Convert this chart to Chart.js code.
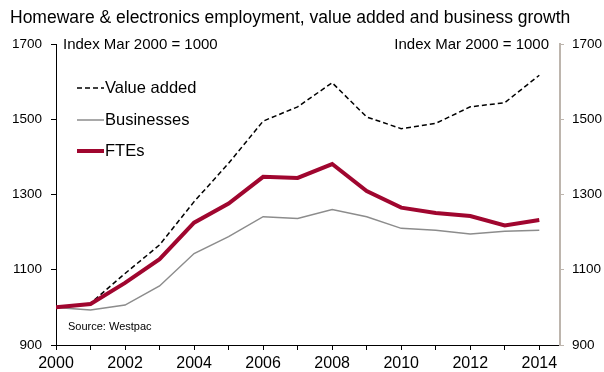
<!DOCTYPE html>
<html>
<head>
<meta charset="utf-8">
<script src="https://cdn.jsdelivr.net/npm/chart.js@4/dist/chart.umd.min.js"></script>
<style>
  html, body { margin: 0; padding: 0; background: #fff; }
  #wrap { width: 604px; height: 372px; }
</style>
</head>
<body>
<div id="wrap"><canvas id="chart-line"></canvas></div>
<script>
// index, Mar 2000 = 1000
var years = [2000, 2001, 2002, 2003, 2004, 2005, 2006, 2007, 2008, 2009, 2010, 2011, 2012, 2013, 2014];
var valueAdded = [1000, 1011, 1090, 1166, 1281, 1383, 1495, 1533, 1597, 1506, 1475, 1489, 1533, 1544, 1617];
var businesses = [1000, 993, 1006, 1057, 1143, 1188, 1241, 1236, 1260, 1241, 1210, 1205, 1195, 1202, 1205];
var ftes = [1000, 1009, 1065, 1128, 1225, 1276, 1347, 1344, 1381, 1309, 1265, 1251, 1243, 1218, 1232];
var yTicks = [900, 1100, 1300, 1500, 1700];

var FONT = "'Liberation Sans', Arial, sans-serif";

function pts(arr){
    return arr.map(function(v, i){ return {x: years[i], y: v}; });
}

// legend + notes drawn inside the plot
var notes = {
    id: 'notes',
    afterDraw: function(chart){
        var c = chart.ctx, a = chart.chartArea;
        c.save();
        c.fillStyle = '#000';
        c.textBaseline = 'middle';
        c.font = '15px ' + FONT;
        c.textAlign = 'left';
        c.fillText('Index Mar 2000 = 1000', a.left + 7, a.top + 1);
        c.textAlign = 'right';
        c.fillText('Index Mar 2000 = 1000', a.right - 11, a.top + 1);

        c.textAlign = 'left';
        c.font = '11px ' + FONT;
        c.fillText('Source: Westpac', a.left + 12, a.bottom - 18);

        var rows = [88, 120, 151];
        c.font = '16.5px ' + FONT;
        chart.data.datasets.forEach(function(ds, i){
            var y = rows[i];
            c.beginPath();
            c.strokeStyle = ds.borderColor;
            c.lineWidth = ds.borderWidth;
            c.setLineDash(ds.borderDash || []);
            c.moveTo(a.left + 21, y);
            c.lineTo(a.left + 48, y);
            c.stroke();
            c.setLineDash([]);
            c.fillStyle = '#000';
            c.fillText(ds.label, a.left + 49, y);
        });
        c.restore();
    }
};

function plain(v){ return String(v); }

function load(){
    var ctx = document.getElementById("chart-line");
    new Chart(ctx, {
        type: 'line',
        data: {
            datasets: [{
                label: 'Value added',
                data: pts(valueAdded),
                borderColor: '#000',
                borderWidth: 1.5,
                borderDash: [5, 3],
                pointRadius: 0,
                tension: 0
            }, {
                label: 'Businesses',
                data: pts(businesses),
                borderColor: '#8c8c8c',
                borderWidth: 1.5,
                pointRadius: 0,
                tension: 0
            }, {
                label: 'FTEs',
                data: pts(ftes),
                borderColor: '#a0062f',
                borderWidth: 4,
                pointRadius: 0,
                tension: 0,
                order: -1
            }]
        },
        options: {
            responsive: true,
            maintainAspectRatio: false,
            animation: false,
            layout: { padding: { left: 10, right: 0, top: 0, bottom: 0 } },
            plugins: {
                legend: { display: false },
                tooltip: { enabled: false },
                title: {
                    display: true,
                    text: 'Homeware & electronics employment, value added and business growth',
                    align: 'start',
                    color: '#000',
                    font: { family: FONT, size: 17.5, weight: 'normal' },
                    padding: { top: 8, bottom: 15 }
                }
            },
            scales: {
                x: {
                    type: 'linear',
                    min: 2000,
                    max: 2014.6,
                    afterBuildTicks: function(s){
                        s.ticks = years.map(function(y){ return {value: y}; });
                    },
                    afterFit: function(s){ s.height = 27; },
                    border: { color: '#000', width: 1 },
                    grid: { drawOnChartArea: false, color: '#000', tickLength: 5 },
                    ticks: {
                        autoSkip: false,
                        maxRotation: 0,
                        padding: 4,
                        color: '#000',
                        font: { family: FONT, size: 16 },
                        callback: function(v){ return v % 2 === 0 ? String(v) : ''; }
                    }
                },
                y: {
                    position: 'left',
                    min: 900,
                    max: 1700,
                    afterBuildTicks: function(s){
                        s.ticks = yTicks.map(function(v){ return {value: v}; });
                    },
                    afterFit: function(s){ s.width = 46; },
                    border: { color: '#000', width: 1 },
                    grid: { drawOnChartArea: false, color: '#000', tickLength: 5 },
                    ticks: { padding: 9, color: '#000', font: { family: FONT, size: 13.5 }, callback: plain }
                },
                y2: {
                    position: 'right',
                    min: 900,
                    max: 1700,
                    afterBuildTicks: function(s){
                        s.ticks = yTicks.map(function(v){ return {value: v}; });
                    },
                    afterFit: function(s){ s.width = 44; },
                    border: { color: '#bdb5ad', width: 2 },
                    grid: { drawOnChartArea: false, color: '#bdb5ad', tickLength: 4 },
                    ticks: { padding: 8, color: '#000', font: { family: FONT, size: 13.5 }, callback: plain }
                }
            }
        },
        plugins: [notes]
    });
}
load();
</script>
</body>
</html>
